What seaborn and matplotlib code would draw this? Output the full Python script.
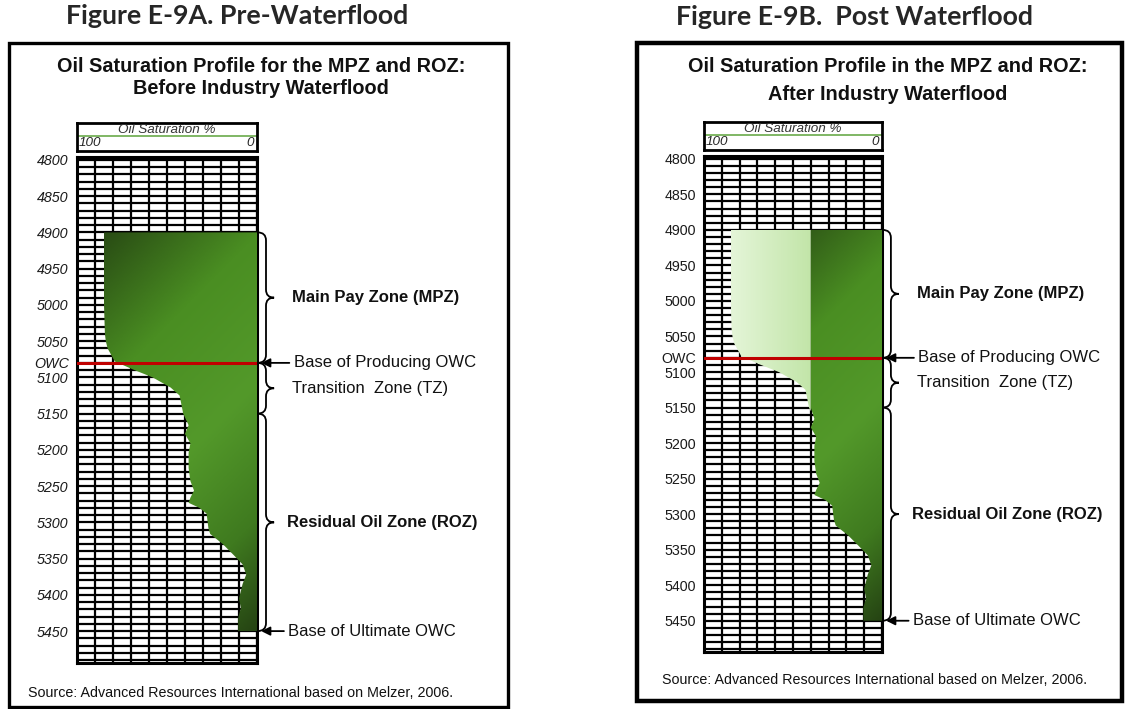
import numpy as np
import matplotlib
matplotlib.use("Agg")
import matplotlib.pyplot as plt
from matplotlib.patches import Rectangle, PathPatch
from matplotlib.path import Path
from matplotlib.colors import LinearSegmentedColormap
import seaborn as sns

# oil saturation profile (depth ft, oil saturation %)
depth_ft = [4900, 5000, 5040, 5050, 5060, 5078, 5089, 5100, 5114, 5125,
            5150, 5166, 5178, 5191, 5204, 5225, 5243, 5256, 5266, 5273,
            5280, 5288, 5308, 5316, 5330, 5345, 5358, 5372, 5385, 5405,
            5418, 5432, 5450]
oil_sat = [85, 85, 84.5, 84, 83, 79, 69, 58, 48, 43,
           41, 38, 40, 37, 38, 38, 37, 35, 37, 38,
           32, 28, 27, 26, 19, 13, 8, 6, 8, 10,
           9, 10.5, 10.5]

# residual oil left behind by the waterflood (panel B)
swept_residual = 40

owc_depth = 5080
depth_ticks = [4800, 4850, 4900, 4950, 5000, 5050, 5100, 5150,
               5200, 5250, 5300, 5350, 5400, 5450]
grid_depths = list(range(4800, 5500, 10))
grid_sats = list(range(0, 101, 10))

zone_top = [4900, 5080, 5150]
zone_bottom = [5080, 5150, 5450]
zone_names = ["Main Pay Zone (MPZ)", "Transition  Zone (TZ)", "Residual Oil Zone (ROZ)"]
zone_bold = [True, False, True]
zone_text_x = [-19.5, -19.5, -16.8]

fig_titles = ["Figure E-9A. Pre-Waterflood", "Figure E-9B.  Post Waterflood"]
chart_titles = [["Oil Saturation Profile for the MPZ and ROZ:", "Before Industry Waterflood"],
                ["Oil Saturation Profile in the MPZ and ROZ:", "After Industry Waterflood"]]
source_text = "Source: Advanced Resources International based on Melzer, 2006."

sns.set_style("white")
plt.rcParams["font.family"] = ["Liberation Sans", "DejaVu Sans"]

W, H = 1127, 709
fig = plt.figure(figsize=(W / 100, H / 100), dpi=100)


def px_axes(x, y, w, h):
    return fig.add_axes([x / W, 1 - (y + h) / H, w / W, h / H])


ov = px_axes(0, 0, W, H)
ov.set_xlim(0, W)
ov.set_ylim(H, 0)
ov.axis("off")

dark_cmap = LinearSegmentedColormap.from_list(
    "oil", [(0, "#294c14"), (0.28, "#4a8e22"), (0.55, "#53992a"),
            (0.8, "#3f7a1f"), (1.0, "#254313")])
light_cmap = LinearSegmentedColormap.from_list("swept", ["#e4f5d8", "#c2e5a8"])

d = np.array(depth_ft, dtype=float)
s = np.array(oil_sat, dtype=float)


def gradient(ax, poly, x_left, x_right, d_top, d_bot, cmap, diag, wpx, hpx):
    nx, ny = 160, 300
    u = np.linspace(0, 1, nx)[None, :]
    v = np.linspace(0, 1, ny)[:, None]
    if diag:
        t = (u * wpx + v * hpx) / (wpx + hpx)
    else:
        t = u + 0 * v
    im = ax.imshow(cmap(t), extent=(x_left, x_right, d_bot, d_top), aspect="auto",
                   origin="upper", zorder=3, interpolation="bilinear")
    im.set_clip_path(poly.get_paths()[0], ax.transData)


def brace(ax, y0, y1, x0=-0.3, xm=-5.0, xt=-9.5, r=11):
    ym = (y0 + y1) / 2
    verts = [(x0, y0), (xm, y0), (xm, y0 + r), (xm, ym - r), (xm, ym), (xt, ym),
             (xm, ym), (xm, ym + r), (xm, y1 - r), (xm, y1), (x0, y1)]
    codes = [Path.MOVETO, Path.CURVE3, Path.CURVE3, Path.LINETO, Path.CURVE3, Path.CURVE3,
             Path.CURVE3, Path.CURVE3, Path.LINETO, Path.CURVE3, Path.CURVE3]
    ax.add_patch(PathPatch(Path(verts, codes), fill=False, lw=1.3, ec="black", clip_on=False))


def panel(i, box, box_lw, grid, title_x, title_y, figt_xy, src_xy, after):
    bx, by, bw, bh = box
    ov.add_patch(Rectangle((bx, by), bw, bh, fill=False, lw=box_lw, ec="black"))
    ov.text(figt_xy[0], figt_xy[1], fig_titles[i], ha="center", va="center",
            fontsize=19.3, fontweight="bold", family=["Lato", "DejaVu Sans"])
    for line, ty in zip(chart_titles[i], title_y):
        ov.text(title_x, ty, line, ha="center", va="center", fontsize=14.3, fontweight="bold",
                color="#111111")
    ov.text(src_xy[0], src_xy[1], source_text, ha="left", va="center", fontsize=10.3,
            color="#111111")

    gx, gy, gw, gh = grid
    style = "normal" if after else "italic"

    # header box
    hd = px_axes(gx, gy - 34, gw, 28)
    hd.set_xticks([])
    hd.set_yticks([])
    for sp in hd.spines.values():
        sp.set_linewidth(2)
        sp.set_color("black")
    hd.axhline(0.55, color="#6aaa4a", lw=1.2)
    hd.text(0.5, 0.75, "Oil Saturation %", transform=hd.transAxes, ha="center", va="center",
            fontsize=9.7, style="italic", color="#333333")
    hd.text(0.01, 0.28, "100", transform=hd.transAxes, ha="left", va="center",
            fontsize=9.7, style="italic")
    hd.text(0.985, 0.28, "0", transform=hd.transAxes, ha="right", va="center",
            fontsize=9.7, style="italic")

    ax = px_axes(gx, gy, gw, gh)
    ax.set_facecolor("white")
    ax.hlines(grid_depths, 100, 0, color="black", lw=1.6, zorder=1)
    ax.vlines(grid_sats, 4796, 5494, color="black", lw=1.6, zorder=1)

    sx = gw / 100.0
    sy = gh / (5494 - 4796)
    if after:
        dark = ax.fill_betweenx(d, np.minimum(s, swept_residual), 0, fc="none", lw=0)
        gradient(ax, dark, 62, 0, d[0], d[-1], dark_cmap, True,
                 62 * sx, (d[-1] - d[0]) * sy)
        light = ax.fill_betweenx(d, s, swept_residual, where=s > swept_residual,
                                 interpolate=True, fc="none", lw=0)
        gradient(ax, light, s.max(), swept_residual, d[0], d[-1], light_cmap, False, 1, 1)
    else:
        oil = ax.fill_betweenx(d, s, 0, fc="none", lw=0)
        gradient(ax, oil, s.max(), 0, d[0], d[-1], dark_cmap, True,
                 s.max() * sx, (d[-1] - d[0]) * sy)

    sns.lineplot(x=[100, 0], y=[owc_depth, owc_depth], ax=ax, color="#c00000", lw=2.2,
                 zorder=5, estimator=None, sort=False, orient="y")

    ax.set_xlim(100, 0)
    ax.set_ylim(5494, 4796)
    ax.set_xticks([])
    ticks = depth_ticks + [owc_depth]
    ax.set_yticks(ticks)
    ax.set_yticklabels([str(t) for t in depth_ticks] + ["OWC"], fontsize=10.3, style=style,
                       color="#1a1a1a")
    ax.tick_params(axis="y", length=0, pad=6)
    ax.set_xlabel("")
    ax.set_ylabel("")
    for sp in ax.spines.values():
        sp.set_visible(True)
        sp.set_linewidth(2.2)
        sp.set_color("black")

    # zone braces and labels
    for top, bot, name, bold, tx in zip(zone_top, zone_bottom, zone_names, zone_bold, zone_text_x):
        brace(ax, top, bot)
        ax.text(tx, (top + bot) / 2, name, ha="left", va="center", fontsize=12,
                fontweight="bold" if bold else "normal", clip_on=False, color="#111111")

    for depth_val, label, tail in [(owc_depth, "Base of Producing OWC", -19.5),
                                   (zone_bottom[-1], "Base of Ultimate OWC", -16.5)]:
        ax.annotate("", xy=(-0.8, depth_val), xytext=(tail, depth_val),
                    arrowprops=dict(arrowstyle="-|>", color="black", lw=1.3, mutation_scale=13),
                    annotation_clip=False)
        ax.text(tail - 0.8, depth_val, label, ha="left", va="center", fontsize=12,
                clip_on=False, color="#111111")


panel(0, (9, 43, 499, 664), 2.4, (77, 157, 180, 506), 261, (67, 89), (237, 16), (28, 693), False)
panel(1, (637, 43, 485, 658), 3.2, (704, 156, 178, 496), 888, (67, 95), (854, 17), (662, 680), True)

fig.savefig("out.png", dpi=100)
